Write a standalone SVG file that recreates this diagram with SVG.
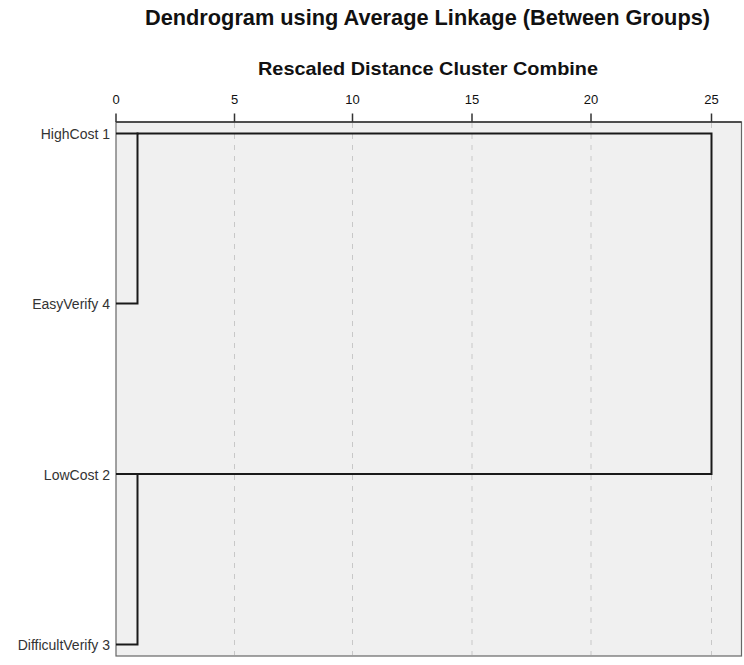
<svg xmlns="http://www.w3.org/2000/svg" width="744" height="665" viewBox="0 0 744 665">
  <style>
    .title { font-family: "Liberation Sans", Arial, sans-serif; font-weight: bold; fill: #111; }
    .tick { font-family: "Liberation Sans", Arial, sans-serif; font-size: 13px; fill: #111; text-anchor: middle; }
    .label { font-family: "Liberation Sans", Arial, sans-serif; font-size: 14px; fill: #333; text-anchor: end; }
    .grid { stroke: #c8c8c8; stroke-width: 1; stroke-dasharray: 5 6; fill: none; }
    .link { stroke: #1a1a1a; stroke-width: 2; fill: none; stroke-linecap: square; }
  </style>

  <rect x="0" y="0" width="744" height="665" fill="#ffffff"/>

  <!-- Titles -->
  <text class="title" x="145" y="24.5" font-size="22" textLength="565" lengthAdjust="spacingAndGlyphs">Dendrogram using Average Linkage (Between Groups)</text>
  <text class="title" x="258" y="75" font-size="19" textLength="340" lengthAdjust="spacingAndGlyphs">Rescaled Distance Cluster Combine</text>

  <!-- Plot area -->
  <g id="plot-area">
    <rect x="116" y="122" width="625.5" height="534" fill="#f0f0f0" stroke="#666" stroke-width="1.2"/>
    <line x1="116" y1="122" x2="741.5" y2="122" stroke="#333" stroke-width="1.5"/>
  </g>

  <!-- Axis ticks and labels -->
  <g id="axis">
    <g stroke="#333" stroke-width="1.5">
      <line x1="116" y1="113.5" x2="116" y2="122"/>
      <line x1="234.5" y1="113.5" x2="234.5" y2="122"/>
      <line x1="352.5" y1="113.5" x2="352.5" y2="122"/>
      <line x1="472" y1="113.5" x2="472" y2="122"/>
      <line x1="591" y1="113.5" x2="591" y2="122"/>
      <line x1="711.5" y1="113.5" x2="711.5" y2="122"/>
    </g>
    <text class="tick" x="116" y="104">0</text>
    <text class="tick" x="234.5" y="104">5</text>
    <text class="tick" x="352.5" y="104">10</text>
    <text class="tick" x="472" y="104">15</text>
    <text class="tick" x="591" y="104">20</text>
    <text class="tick" x="711.5" y="104">25</text>
  </g>

  <!-- Grid lines -->
  <g id="grid">
    <line class="grid" x1="234.5" y1="123" x2="234.5" y2="655"/>
    <line class="grid" x1="352.5" y1="123" x2="352.5" y2="655"/>
    <line class="grid" x1="472" y1="123" x2="472" y2="655"/>
    <line class="grid" x1="591" y1="123" x2="591" y2="655"/>
    <line class="grid" x1="711.5" y1="123" x2="711.5" y2="655"/>
  </g>

  <!-- Case labels -->
  <g id="node-highcost-1"><text class="label" x="110" y="138.5">HighCost 1</text></g>
  <g id="node-easyverify-4"><text class="label" x="110" y="309">EasyVerify 4</text></g>
  <g id="node-lowcost-2"><text class="label" x="110" y="479.5">LowCost 2</text></g>
  <g id="node-difficultverify-3"><text class="label" x="110" y="650">DifficultVerify 3</text></g>

  <!-- Dendrogram links -->
  <g id="connectors">
    <polyline class="link" points="117,303.5 137.5,303.5 137.5,133.5 711.5,133.5 711.5,474 137.5,474 137.5,644.5 117,644.5"/>
    <line class="link" x1="117" y1="133.5" x2="137.5" y2="133.5"/>
    <line class="link" x1="117" y1="474" x2="137.5" y2="474"/>
  </g>
</svg>
